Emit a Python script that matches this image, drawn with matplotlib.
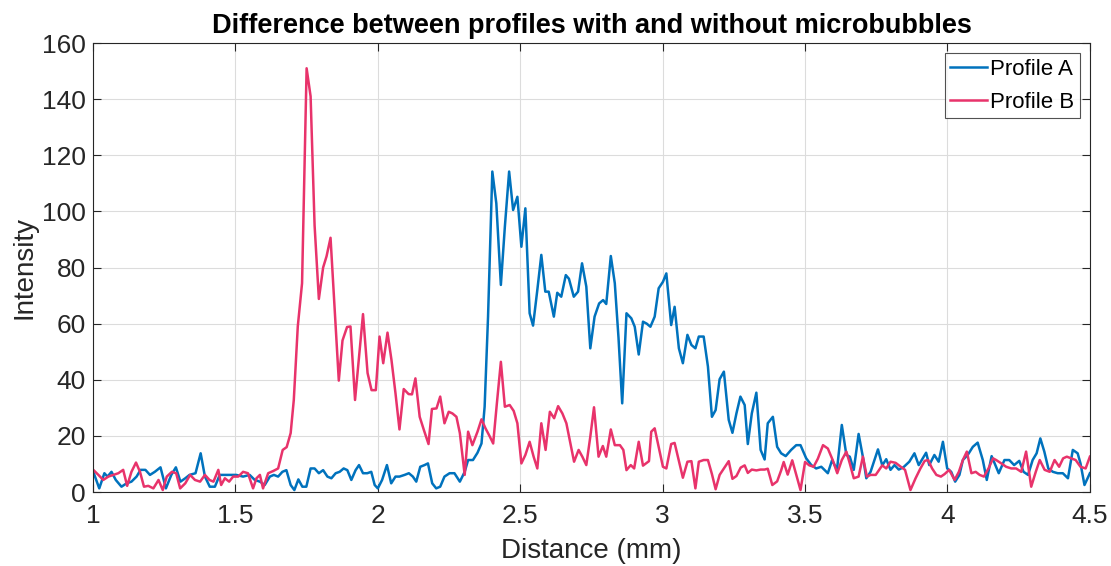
import matplotlib
matplotlib.use("Agg")
import matplotlib.pyplot as plt

plt.rcParams['font.family'] = ['Liberation Sans', 'DejaVu Sans']

# Profile A (with microbubbles, blue)
dist_a = [1.001, 1.022, 1.04, 1.051, 1.065, 1.08, 1.1, 1.118, 1.135, 1.153, 1.167, 1.184, 1.2, 1.217,
          1.237, 1.256, 1.275, 1.291, 1.307, 1.324, 1.339, 1.36, 1.378, 1.393, 1.41, 1.428, 1.445,
          1.462, 1.48, 1.503, 1.527, 1.55, 1.568, 1.586, 1.603, 1.621, 1.635, 1.65, 1.665, 1.679,
          1.694, 1.707, 1.721, 1.735, 1.749, 1.764, 1.778, 1.793, 1.808, 1.823, 1.837, 1.852, 1.866,
          1.88, 1.893, 1.907, 1.922, 1.934, 1.948, 1.963, 1.977, 1.989, 2.0, 2.015, 2.032, 2.047,
          2.062, 2.076, 2.094, 2.109, 2.123, 2.135, 2.149, 2.164, 2.176, 2.191, 2.205, 2.219, 2.234,
          2.252, 2.269, 2.288, 2.305, 2.317, 2.334, 2.35, 2.364, 2.375, 2.387, 2.402, 2.416, 2.432,
          2.446, 2.461, 2.475, 2.49, 2.504, 2.518, 2.533, 2.545, 2.56, 2.574, 2.588, 2.6, 2.618,
          2.63, 2.644, 2.66, 2.671, 2.688, 2.703, 2.717, 2.732, 2.746, 2.761, 2.777, 2.791, 2.802,
          2.818, 2.832, 2.845, 2.858, 2.873, 2.89, 2.902, 2.916, 2.931, 2.944, 2.957, 2.972, 2.986,
          3.001, 3.013, 3.03, 3.042, 3.057, 3.071, 3.087, 3.101, 3.115, 3.127, 3.144, 3.159, 3.173,
          3.186, 3.2, 3.215, 3.232, 3.245, 3.259, 3.273, 3.288, 3.299, 3.313, 3.329, 3.344, 3.358,
          3.369, 3.387, 3.402, 3.416, 3.432, 3.451, 3.469, 3.484, 3.504, 3.522, 3.539, 3.557, 3.58,
          3.595, 3.612, 3.629, 3.645, 3.657, 3.671, 3.688, 3.705, 3.715, 3.73, 3.756, 3.771, 3.785,
          3.8, 3.814, 3.829, 3.845, 3.866, 3.884, 3.899, 3.925, 3.936, 3.954, 3.969, 3.984, 3.999,
          4.013, 4.027, 4.042, 4.054, 4.071, 4.089, 4.106, 4.124, 4.138, 4.155, 4.168, 4.18, 4.2,
          4.217, 4.234, 4.252, 4.267, 4.283, 4.299, 4.313, 4.326, 4.34, 4.354, 4.37, 4.387, 4.405,
          4.423, 4.44, 4.457, 4.467, 4.481, 4.5]
profile_a = [7.2, 1.3, 6.7, 5.5, 7.2, 4.3, 1.9, 3.1, 3.7, 5.5, 7.9, 7.9, 6.1, 7.2,
             8.8, 1.3, 6.1, 8.8, 3.7, 4.9, 6.1, 6.7, 13.8, 5.5, 1.9, 1.9, 6.1,
             6.1, 6.1, 6.1, 5.5, 6.1, 4.3, 3.7, 2.5, 5.5, 6.1, 5.5, 7.2, 7.8,
             2.5, 0.7, 4.5, 1.9, 1.9, 8.4, 8.4, 6.7, 7.8, 5.5, 4.9, 6.7, 7.2,
             8.4, 7.8, 4.3, 7.8, 9.6, 6.7, 6.7, 7.2, 2.5, 1.3, 4.3, 9.6, 3.1,
             5.5, 5.5, 6.1, 6.7, 5.5, 3.7, 9.0, 9.6, 10.2, 3.1, 1.3, 1.9, 5.5,
             6.7, 6.7, 3.7, 7.2, 11.4, 11.4, 14.0, 17.3, 30.4, 62.5, 114.2, 102.9, 73.8,
             94.5, 114.2, 100.5, 105.2, 87.4, 101.1, 63.7, 59.3, 72.0, 84.5, 71.4, 71.4, 62.5,
             71.0, 69.6, 77.3, 76.0, 69.6, 71.4, 81.5, 73.2, 51.2, 62.5, 67.2, 68.4, 67.0,
             84.1, 74.4, 55.0, 31.6, 63.7, 61.9, 58.9, 49.0, 60.7, 60.0, 58.9, 62.5, 72.6,
             74.9, 77.9, 59.5, 66.0, 51.2, 45.9, 56.0, 52.4, 51.2, 55.4, 55.4, 44.7, 26.8,
             29.2, 40.2, 42.9, 25.7, 21.1, 28.0, 34.0, 31.0, 17.1, 28.0, 35.4, 15.0, 11.6,
             24.5, 26.8, 16.1, 13.8, 12.8, 15.0, 16.7, 16.7, 12.0, 9.6, 8.4, 9.0, 6.7,
             11.4, 7.9, 23.9, 13.2, 12.6, 7.9, 20.7, 11.4, 4.9, 7.2, 15.2, 9.5, 11.7,
             7.9, 9.6, 8.0, 8.8, 10.8, 13.8, 9.6, 14.0, 9.6, 13.2, 10.8, 17.9, 8.4,
             7.2, 3.7, 6.1, 11.4, 13.2, 16.1, 17.6, 11.4, 4.3, 12.8, 9.6, 6.7, 11.4,
             11.4, 9.6, 11.1, 7.2, 6.1, 11.4, 13.8, 19.1, 14.4, 8.4, 7.2, 6.7, 6.7,
             4.9, 15.0, 13.8, 10.2, 2.5, 6.7]

# Profile B (without microbubbles, red)
dist_b = [1.001, 1.019, 1.036, 1.054, 1.071, 1.089, 1.106, 1.12, 1.135, 1.151, 1.165, 1.179, 1.194,
          1.212, 1.23, 1.245, 1.259, 1.277, 1.292, 1.306, 1.324, 1.341, 1.358, 1.376, 1.393, 1.409,
          1.423, 1.44, 1.45, 1.463, 1.478, 1.492, 1.51, 1.527, 1.544, 1.562, 1.574, 1.586, 1.597,
          1.615, 1.633, 1.65, 1.666, 1.68, 1.694, 1.705, 1.719, 1.734, 1.75, 1.764, 1.778, 1.793,
          1.808, 1.82, 1.834, 1.848, 1.863, 1.876, 1.892, 1.904, 1.92, 1.934, 1.948, 1.964, 1.978,
          1.993, 2.006, 2.019, 2.034, 2.048, 2.062, 2.076, 2.091, 2.108, 2.12, 2.132, 2.147, 2.162,
          2.178, 2.19, 2.206, 2.219, 2.234, 2.249, 2.262, 2.276, 2.288, 2.305, 2.317, 2.332, 2.35,
          2.364, 2.378, 2.392, 2.405, 2.418, 2.432, 2.446, 2.463, 2.477, 2.49, 2.504, 2.518, 2.533,
          2.547, 2.56, 2.574, 2.589, 2.604, 2.619, 2.633, 2.648, 2.662, 2.676, 2.689, 2.705, 2.718,
          2.732, 2.746, 2.759, 2.775, 2.79, 2.802, 2.818, 2.832, 2.85, 2.862, 2.873, 2.888, 2.9,
          2.916, 2.931, 2.952, 2.96, 2.972, 2.986, 3.001, 3.013, 3.03, 3.042, 3.057, 3.071, 3.087,
          3.101, 3.115, 3.127, 3.144, 3.159, 3.173, 3.186, 3.2, 3.215, 3.232, 3.245, 3.259, 3.274,
          3.288, 3.299, 3.313, 3.329, 3.344, 3.358, 3.369, 3.385, 3.402, 3.416, 3.425, 3.439, 3.455,
          3.469, 3.484, 3.5, 3.515, 3.53, 3.545, 3.563, 3.58, 3.597, 3.613, 3.629, 3.645, 3.657,
          3.671, 3.688, 3.703, 3.717, 3.73, 3.748, 3.771, 3.785, 3.8, 3.818, 3.836, 3.851, 3.87,
          3.888, 3.905, 3.92, 3.932, 3.946, 3.961, 3.977, 3.99, 4.006, 4.025, 4.04, 4.054, 4.068,
          4.084, 4.099, 4.113, 4.128, 4.144, 4.16, 4.171, 4.189, 4.206, 4.224, 4.241, 4.259, 4.276,
          4.294, 4.31, 4.324, 4.341, 4.359, 4.376, 4.392, 4.406, 4.419, 4.435, 4.45, 4.467, 4.485,
          4.5]
profile_b = [7.9, 6.1, 4.3, 5.5, 6.1, 6.7, 7.9, 2.2, 7.2, 10.5, 7.2, 1.9, 2.2,
             1.3, 4.3, 0.7, 5.5, 7.2, 6.7, 1.3, 3.1, 6.1, 4.3, 3.7, 6.1, 4.3,
             3.7, 7.9, 2.5, 4.9, 3.7, 5.5, 5.5, 7.2, 6.7, 1.3, 4.9, 6.1, 1.3,
             6.7, 7.5, 8.4, 15.0, 16.0, 21.0, 32.8, 59.0, 74.4, 151.0, 141.0, 95.0, 68.8,
             80.0, 84.0, 90.6, 66.0, 39.7, 54.0, 58.8, 59.0, 32.8, 48.2, 63.4, 42.4, 36.3,
             36.3, 55.4, 45.9, 56.8, 47.0, 35.2, 22.3, 36.7, 34.9, 34.8, 40.5, 26.8, 22.0,
             17.1, 29.6, 29.8, 34.0, 24.5, 28.6, 28.0, 26.8, 21.0, 6.1, 21.5, 16.7, 21.5,
             25.9, 22.7, 20.0, 17.3, 31.6, 46.4, 30.4, 31.0, 28.9, 24.5, 10.2, 13.2, 17.9,
             12.6, 8.4, 24.5, 15.0, 28.6, 26.3, 30.6, 28.0, 24.5, 17.3, 10.8, 15.0, 12.6,
             9.6, 19.7, 30.2, 12.6, 16.4, 12.6, 22.3, 16.7, 16.7, 15.0, 7.8, 9.6, 8.4,
             17.9, 9.4, 11.0, 21.5, 22.7, 16.0, 9.0, 8.4, 17.1, 17.5, 11.0, 5.1, 10.8,
             11.0, 1.3, 10.8, 11.4, 11.4, 6.4, 1.0, 6.1, 8.4, 11.0, 4.7, 5.7, 8.7,
             9.5, 6.8, 8.0, 7.7, 8.0, 8.0, 8.3, 2.5, 3.8, 7.7, 10.7, 6.2, 11.3,
             6.2, 0.7, 10.7, 9.5, 9.0, 11.9, 16.7, 15.5, 11.4, 6.7, 11.4, 14.4, 10.2,
             4.9, 5.5, 12.6, 5.5, 6.1, 6.1, 9.5, 8.4, 10.8, 10.4, 9.0, 7.9, 0.7,
             4.9, 8.4, 11.1, 11.4, 8.4, 6.1, 5.5, 6.4, 7.9, 4.3, 7.2, 11.4, 14.4,
             6.7, 7.2, 6.1, 5.5, 8.4, 12.0, 11.4, 10.2, 9.0, 8.4, 8.4, 7.2, 14.4,
             1.9, 7.2, 11.4, 7.9, 7.2, 11.4, 9.0, 12.0, 12.6, 12.0, 11.4, 9.0, 8.4,
             12.6]

x_ticks = [1, 1.5, 2, 2.5, 3, 3.5, 4, 4.5]
x_tick_labels = ['1', '1.5', '2', '2.5', '3', '3.5', '4', '4.5']
y_ticks = [0, 20, 40, 60, 80, 100, 120, 140, 160]

color_a = '#0072BD'
color_b = '#E8336B'
ink = '#262626'

fig = plt.figure(figsize=(11.11, 5.66), dpi=100)
ax = fig.add_axes([0.0837, 0.1307, 0.8973, 0.7933])

ax.plot(dist_a, profile_a, color=color_a, lw=1.8, label='Profile A')
ax.plot(dist_b, profile_b, color=color_b, lw=1.8, label='Profile B')

ax.set_xlim(1, 4.5)
ax.set_ylim(0, 160)
ax.set_xticks(x_ticks)
ax.set_xticklabels(x_tick_labels)
ax.set_yticks(y_ticks)

ax.grid(True, color='#dcdcdc', lw=0.8)
ax.set_axisbelow(True)
ax.tick_params(direction='in', top=True, right=True, length=6, width=0.8,
               labelsize=19, colors=ink)
ax.tick_params(axis='x', pad=8.5)
ax.tick_params(axis='y', pad=5)
for sp in ax.spines.values():
    sp.set_color(ink)
    sp.set_linewidth(0.8)

ax.set_xlabel('Distance (mm)', fontsize=20, color=ink, labelpad=7)
ax.set_ylabel('Intensity', fontsize=20, color=ink, labelpad=3)
ax.set_title('Difference between profiles with and without microbubbles',
             fontsize=19.5, fontweight='bold', pad=7)

leg = ax.legend(loc='upper right', fontsize=16, frameon=True, fancybox=False,
                edgecolor=ink, handlelength=1.65, handletextpad=0.15,
                borderpad=0.25, labelspacing=0.55, borderaxespad=0.45)
leg.get_frame().set_linewidth(0.8)

fig.savefig('out.png', dpi=100)
